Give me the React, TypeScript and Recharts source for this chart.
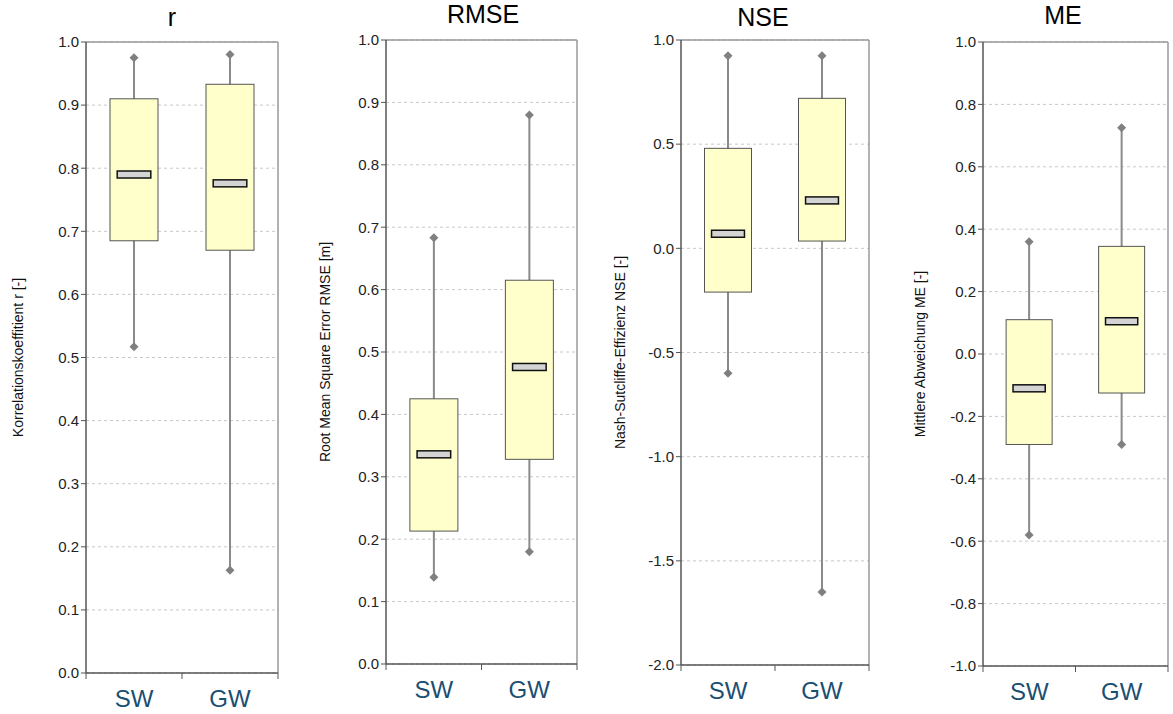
import React from 'react';
import { ComposedChart, Bar, XAxis, YAxis, CartesianGrid } from 'recharts';

// categories and box statistics: [min, q1, median, q3, max]
const categories = ['SW', 'GW'];

const rSW = [0.517, 0.685, 0.79, 0.91, 0.975];
const rGW = [0.163, 0.67, 0.776, 0.933, 0.98];
const rTicks = [0, 0.1, 0.2, 0.3, 0.4, 0.5, 0.6, 0.7, 0.8, 0.9, 1.0];

const rmseSW = [0.139, 0.213, 0.336, 0.425, 0.683];
const rmseGW = [0.18, 0.328, 0.476, 0.615, 0.88];
const rmseTicks = [0, 0.1, 0.2, 0.3, 0.4, 0.5, 0.6, 0.7, 0.8, 0.9, 1.0];

const nseSW = [-0.6, -0.21, 0.07, 0.48, 0.925];
const nseGW = [-1.65, 0.035, 0.23, 0.72, 0.925];
const nseTicks = [-2.0, -1.5, -1.0, -0.5, 0.0, 0.5, 1.0];

const meSW = [-0.58, -0.29, -0.11, 0.11, 0.36];
const meGW = [-0.29, -0.125, 0.105, 0.345, 0.725];
const meTicks = [-1.0, -0.8, -0.6, -0.4, -0.2, 0.0, 0.2, 0.4, 0.6, 0.8, 1.0];

const FONT = '"Liberation Sans", Arial, sans-serif';

const toRows = (series: number[][]) =>
  categories.map((cat, i) => {
    const [min, q1, median, q3, max] = series[i];
    return { cat, min, q1, median, q3, max, range: [min, max] };
  });

const BoxShape = (props: any) => {
  const { x, y, width, height, payload } = props;
  const top = Math.min(y, y + height);
  const h = Math.abs(height);
  const { min, q1, median, q3, max } = payload;
  const py = (v: number) => top + ((max - v) / (max - min)) * h;
  const cx = x + width / 2;
  const mw = width * 0.7;
  const d = 4.5;
  return (
    <g>
      <line x1={cx} x2={cx} y1={py(max)} y2={py(min)} stroke="#8a8a8a" strokeWidth={2} />
      <rect x={x} y={py(q3)} width={width} height={py(q1) - py(q3)} fill="#ffffcc" stroke="#555" strokeWidth={1} />
      <rect x={cx - mw / 2} y={py(median) - 3.5} width={mw} height={7} fill="#d4d4d4" stroke="#111" strokeWidth={1.5} />
      <polygon points={`${cx},${py(max) - d} ${cx + d},${py(max)} ${cx},${py(max) + d} ${cx - d},${py(max)}`} fill="#808080" />
      <polygon points={`${cx},${py(min) - d} ${cx + d},${py(min)} ${cx},${py(min) + d} ${cx - d},${py(min)}`} fill="#808080" />
    </g>
  );
};

// category tick: label in the band centre, tick marks on the band edges
const CatTick = (props: any) => {
  const { x, y, payload, index, band } = props;
  return (
    <g>
      {index === 0 && <line x1={x - band / 2} x2={x - band / 2} y1={y} y2={y + 6} stroke="#555" />}
      <line x1={x + band / 2} x2={x + band / 2} y1={y} y2={y + 6} stroke="#555" />
      <text x={x} y={y + 34} textAnchor="middle" fill="#1b4f72" fontSize={24} fontFamily={FONT}>
        {payload.value}
      </text>
    </g>
  );
};

interface PanelProps {
  title: string;
  yLabel: string;
  data: any[];
  ticks: number[];
  left: number;
  width: number;
  top: number;
  bottom: number;
  yAxisWidth: number;
  right: number;
  labelOffset: number;
  titleX: number;
  titleBaseline: number;
}

const Panel: React.FC<PanelProps> = (p) => {
  const domain = [p.ticks[0], p.ticks[p.ticks.length - 1]];
  const band = (p.width - p.yAxisWidth - p.right) / categories.length;
  return (
    <div style={{ position: 'absolute', left: p.left, top: 0, width: p.width, height: 714 }}>
      <div
        style={{
          position: 'absolute',
          left: p.titleX - p.left - 60,
          width: 120,
          top: Math.max(0, p.titleBaseline - 23),
          textAlign: 'center',
          fontFamily: FONT,
          fontSize: 25,
          lineHeight: '29px',
          color: '#000'
        }}
      >
        {p.title}
      </div>
      <ComposedChart
        width={p.width}
        height={714}
        data={p.data}
        barCategoryGap="25%"
        margin={{ top: p.top, right: p.right, bottom: 0, left: 0 }}
      >
        <CartesianGrid vertical={false} stroke="#c8c8c8" strokeDasharray="3 3" />
        <CartesianGrid
          stroke="#999"
          strokeWidth={1.5}
          horizontalCoordinatesGenerator={({ offset }: any) => [offset.top]}
          verticalCoordinatesGenerator={({ offset }: any) => [offset.left + offset.width]}
        />
        <XAxis
          dataKey="cat"
          height={p.bottom}
          tickLine={false}
          tickSize={0}
          tickMargin={0}
          axisLine={{ stroke: '#555', strokeWidth: 1.5 }}
          tick={<CatTick band={band} />}
        />
        <YAxis
          type="number"
          domain={domain}
          ticks={p.ticks}
          interval={0}
          width={p.yAxisWidth}
          tickFormatter={(v: number) => v.toFixed(1)}
          tick={{ fill: '#222', fontSize: 15, fontFamily: FONT }}
          tickLine={{ stroke: '#555' }}
          tickSize={5}
          axisLine={{ stroke: '#555', strokeWidth: 1.5 }}
          label={{
            value: p.yLabel,
            angle: -90,
            position: 'insideLeft',
            offset: p.labelOffset,
            style: { textAnchor: 'middle', fontSize: 14, fontFamily: FONT, fill: '#111' }
          }}
        />
        <Bar dataKey="range" shape={<BoxShape />} isAnimationActive={false} />
      </ComposedChart>
    </div>
  );
};

const App: React.FC = () => (
  <div style={{ position: 'absolute', left: 0, top: 0, width: 1173, height: 714, background: '#fff' }}>
    <Panel title="r" yLabel="Korrelationskoeffitient r [-]" data={toRows([rSW, rGW])} ticks={rTicks}
      left={0} width={290} top={42} bottom={41} yAxisWidth={86} right={12} labelOffset={18} titleX={172} titleBaseline={26} />
    <Panel title="RMSE" yLabel="Root Mean Square Error RMSE [m]" data={toRows([rmseSW, rmseGW])} ticks={rmseTicks}
      left={300} width={290} top={40} bottom={50} yAxisWidth={86} right={13} labelOffset={25} titleX={483} titleBaseline={22} />
    <Panel title="NSE" yLabel="Nash-Sutcliffe-Effizienz NSE [-]" data={toRows([nseSW, nseGW])} ticks={nseTicks}
      left={590} width={290} top={40} bottom={49} yAxisWidth={91} right={11} labelOffset={30} titleX={763} titleBaseline={26} />
    <Panel title="ME" yLabel="Mittlere Abweichung ME [-]" data={toRows([meSW, meGW])} ticks={meTicks}
      left={890} width={283} top={42} bottom={48} yAxisWidth={93} right={5} labelOffset={30} titleX={1063} titleBaseline={24} />
  </div>
);

export default App;
